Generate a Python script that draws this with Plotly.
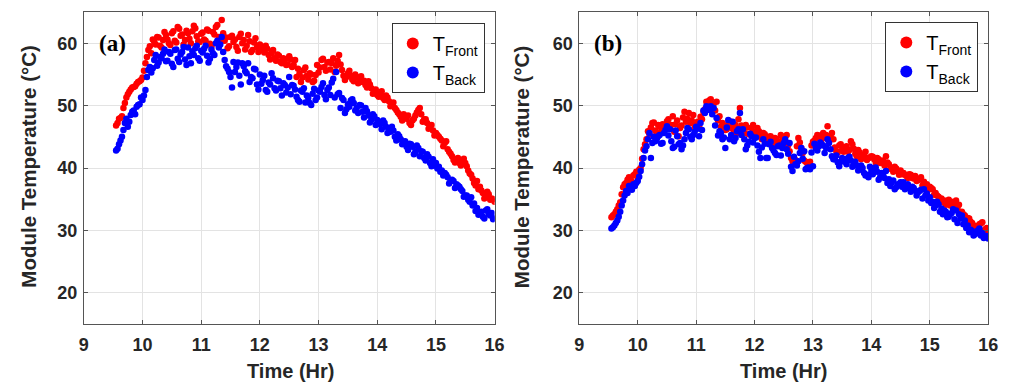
import plotly.graph_objects as go

# Sample times (hours), one reading every 3 minutes
time_hr = [
    9.55, 9.60, 9.65, 9.70, 9.75, 9.80, 9.85, 9.90, 9.95, 10.00,
    10.05, 10.10, 10.15, 10.20, 10.25, 10.30, 10.35, 10.40, 10.45, 10.50,
    10.55, 10.60, 10.65, 10.70, 10.75, 10.80, 10.85, 10.90, 10.95, 11.00,
    11.05, 11.10, 11.15, 11.20, 11.25, 11.30, 11.35, 11.40, 11.45, 11.50,
    11.55, 11.60, 11.65, 11.70, 11.75, 11.80, 11.85, 11.90, 11.95, 12.00,
    12.05, 12.10, 12.15, 12.20, 12.25, 12.30, 12.35, 12.40, 12.45, 12.50,
    12.55, 12.60, 12.65, 12.70, 12.75, 12.80, 12.85, 12.90, 12.95, 13.00,
    13.05, 13.10, 13.15, 13.20, 13.25, 13.30, 13.35, 13.40, 13.45, 13.50,
    13.55, 13.60, 13.65, 13.70, 13.75, 13.80, 13.85, 13.90, 13.95, 14.00,
    14.05, 14.10, 14.15, 14.20, 14.25, 14.30, 14.35, 14.40, 14.45, 14.50,
    14.55, 14.60, 14.65, 14.70, 14.75, 14.80, 14.85, 14.90, 14.95, 15.00,
    15.05, 15.10, 15.15, 15.20, 15.25, 15.30, 15.35, 15.40, 15.45, 15.50,
    15.55, 15.60, 15.65, 15.70, 15.75, 15.80, 15.85, 15.90, 15.95, 16.00,
]
# Intermediate readings, taken halfway between the ones above
time_hr_mid = [
    9.575, 9.625, 9.675, 9.725, 9.775, 9.825, 9.875, 9.925, 9.975,
    10.025, 10.075, 10.125, 10.175, 10.225, 10.275, 10.325, 10.375, 10.425, 10.475,
    10.525, 10.575, 10.625, 10.675, 10.725, 10.775, 10.825, 10.875, 10.925, 10.975,
    11.025, 11.075, 11.125, 11.175, 11.225, 11.275, 11.325, 11.375, 11.425, 11.475,
    11.525, 11.575, 11.625, 11.675, 11.725, 11.775, 11.825, 11.875, 11.925, 11.975,
    12.025, 12.075, 12.125, 12.175, 12.225, 12.275, 12.325, 12.375, 12.425, 12.475,
    12.525, 12.575, 12.625, 12.675, 12.725, 12.775, 12.825, 12.875, 12.925, 12.975,
    13.025, 13.075, 13.125, 13.175, 13.225, 13.275, 13.325, 13.375, 13.425, 13.475,
    13.525, 13.575, 13.625, 13.675, 13.725, 13.775, 13.825, 13.875, 13.925, 13.975,
    14.025, 14.075, 14.125, 14.175, 14.225, 14.275, 14.325, 14.375, 14.425, 14.475,
    14.525, 14.575, 14.625, 14.675, 14.725, 14.775, 14.825, 14.875, 14.925, 14.975,
    15.025, 15.075, 15.125, 15.175, 15.225, 15.275, 15.325, 15.375, 15.425, 15.475,
    15.525, 15.575, 15.625, 15.675, 15.725, 15.775, 15.825, 15.875, 15.925, 15.975,
]

# Panel (a): front / back module temperature (deg C)
a_front = [
    46.8, 47.9, 48.3, 50.4, 51.8, 52.6, 53.0, 53.5, 53.9, 54.5,
    56.8, 58.9, 58.4, 60.2, 61.0, 59.6, 60.5, 61.3, 60.0, 61.6,
    60.4, 62.6, 61.2, 59.8, 62.0, 60.7, 61.9, 62.4, 60.3, 61.5,
    60.6, 62.2, 59.9, 61.8, 62.6, 61.0, 63.7, 60.4, 59.2, 61.0,
    60.2, 59.4, 61.0, 60.0, 59.0, 61.3, 58.6, 60.1, 59.4, 59.8,
    58.9, 59.6, 58.1, 58.4, 57.6, 58.2, 57.0, 57.6, 56.5, 57.9,
    56.2, 57.3, 55.9, 53.8, 55.7, 54.8, 55.2, 53.8, 54.9, 55.3,
    57.3, 56.2, 56.9, 55.8, 57.6, 56.4, 58.1, 55.7, 54.1, 55.2,
    54.8, 53.9, 54.6, 54.4, 53.8, 53.3, 53.9, 52.8, 52.3, 51.7,
    52.0, 51.2, 51.6, 50.7, 50.2, 49.6, 48.9, 48.2, 48.6, 47.9,
    47.2, 47.6, 48.4, 49.3, 48.6, 47.8, 47.2, 46.6, 46.0, 45.6,
    45.0, 44.4, 44.0, 43.0, 42.3, 41.3, 41.0, 40.8, 41.2, 40.8,
    39.6, 38.9, 37.6, 37.9, 37.0, 36.0, 35.4, 35.8, 35.1, 34.6,
]
a_front_mid = [
    47.2, 48.0, 49.6, 51.3, 52.2, 52.9, 53.1, 53.8, 54.1,
    55.6, 57.8, 59.5, 60.6, 59.8, 60.9, 59.3, 61.8, 60.6, 59.7,
    61.9, 60.1, 62.3, 61.4, 60.5, 61.6, 60.0, 62.8, 61.1, 60.2,
    61.7, 60.4, 62.0, 59.5, 61.4, 62.9, 60.2, 61.6, 60.9, 59.5,
    61.2, 60.6, 58.8, 61.5, 60.5, 59.6, 60.3, 58.9, 60.8, 58.6,
    59.3, 58.5, 59.1, 57.4, 58.9, 57.2, 58.0, 56.8, 57.3, 56.6,
    57.4, 56.5, 54.6, 55.1, 54.5, 56.1, 54.2, 55.0, 54.0, 56.5,
    56.1, 57.5, 55.6, 57.0, 56.8, 55.4, 57.2, 56.6, 54.8, 54.6,
    55.6, 54.2, 55.0, 53.6, 54.7, 54.0, 52.9, 53.4, 51.9, 52.6,
    51.4, 52.3, 50.9, 51.3, 49.9, 50.5, 49.3, 48.6, 47.6, 48.3,
    48.4, 46.9, 47.9, 48.9, 49.6, 47.4, 47.8, 46.3, 46.9, 45.2,
    45.3, 44.7, 43.5, 44.3, 42.6, 41.9, 40.9, 41.6, 40.4, 41.5,
    40.3, 39.1, 38.3, 37.2, 36.6, 36.4, 35.1, 36.2, 34.9, 35.0,
]
a_back = [
    42.8, 43.8, 45.0, 47.2, 46.6, 48.5, 49.2, 49.8, 50.2, 50.9,
    52.5, 55.7, 55.3, 57.3, 56.4, 57.8, 58.3, 57.1, 58.6, 56.7,
    58.9, 57.5, 58.2, 59.4, 56.5, 57.9, 58.7, 59.2, 57.6, 58.8,
    59.1, 58.0, 57.5, 58.4, 60.0, 59.3, 61.0, 57.3, 55.9, 54.6,
    57.0, 56.2, 54.8, 56.8, 55.5, 56.8, 54.6, 55.9, 53.4, 55.0,
    54.1, 52.5, 53.7, 55.2, 52.8, 54.0, 52.8, 53.6, 52.1, 54.6,
    53.3, 52.6, 50.9, 52.4, 52.8, 51.6, 50.4, 51.9, 50.9, 52.4,
    53.0, 51.7, 52.5, 51.7, 54.3, 55.4, 52.0, 51.2, 48.8, 50.2,
    50.8, 50.4, 49.6, 50.1, 49.0, 49.6, 48.4, 47.7, 48.3, 47.7,
    47.0, 47.6, 46.6, 46.0, 46.6, 45.0, 45.4, 44.6, 44.2, 43.4,
    43.9, 43.4, 42.6, 43.2, 42.7, 41.6, 42.2, 40.8, 41.4, 40.8,
    40.2, 39.6, 39.2, 38.5, 38.0, 37.9, 37.4, 37.0, 36.3, 35.6,
    34.9, 35.3, 34.3, 33.6, 32.9, 32.2, 33.2, 32.6, 32.8, 32.0,
]
a_back_mid = [
    43.1, 44.4, 46.1, 47.9, 47.4, 49.0, 48.6, 50.1, 51.3,
    51.6, 54.6, 56.2, 56.0, 58.1, 56.9, 57.6, 59.0, 57.2, 58.3,
    56.2, 59.0, 57.0, 58.6, 57.4, 59.3, 56.8, 58.1, 59.6, 57.2,
    58.5, 59.6, 56.9, 59.0, 58.1, 60.4, 59.8, 58.6, 56.3, 55.4,
    52.9, 55.4, 56.9, 53.4, 56.3, 55.2, 53.8, 54.4, 55.8, 52.6,
    53.5, 54.8, 52.2, 53.4, 54.4, 52.4, 53.9, 51.6, 53.3, 52.9,
    51.8, 53.2, 51.4, 50.6, 52.2, 50.5, 51.2, 50.1, 52.7, 51.3,
    52.2, 53.6, 51.0, 52.9, 53.7, 51.3, 51.8, 49.6, 50.9, 49.4,
    49.8, 51.0, 49.2, 48.8, 50.0, 48.1, 49.1, 47.3, 48.6, 46.9,
    47.3, 46.2, 47.2, 45.6, 45.8, 46.0, 44.4, 45.1, 43.8, 44.3,
    42.9, 43.8, 42.2, 43.6, 41.9, 42.6, 41.2, 41.8, 40.3, 40.4,
    39.9, 39.4, 38.8, 38.9, 37.5, 38.1, 36.8, 37.2, 36.6, 35.4,
    35.6, 34.6, 34.0, 33.1, 32.5, 33.0, 31.9, 33.4, 32.4, 31.8,
]

# Panel (b): front / back module temperature (deg C)
b_front = [
    32.1, 32.6, 33.4, 34.5, 36.9, 37.6, 38.5, 37.8, 39.0, 38.6,
    40.0, 43.0, 44.6, 45.4, 47.2, 46.0, 46.9, 45.8, 46.2, 47.5,
    46.3, 48.3, 47.0, 45.1, 46.8, 49.0, 47.9, 47.2, 48.5, 47.0,
    46.7, 47.8, 49.4, 50.1, 51.0, 50.3, 50.6, 48.3, 47.2, 46.1,
    47.0, 46.7, 45.9, 45.6, 49.6, 46.1, 46.9, 45.4, 46.4, 45.8,
    46.4, 45.2, 45.6, 44.9, 45.0, 44.3, 44.8, 43.9, 45.3, 44.6,
    45.3, 42.7, 41.1, 41.3, 44.8, 43.2, 41.2, 40.8, 41.0, 44.2,
    44.8, 45.2, 44.6, 44.9, 46.7, 45.0, 44.6, 42.7, 43.6, 42.9,
    43.2, 42.6, 44.3, 43.1, 41.9, 42.5, 41.9, 42.6, 41.6, 41.9,
    41.4, 41.6, 40.8, 41.2, 41.9, 40.6, 39.8, 40.2, 39.5, 39.6,
    39.2, 38.7, 39.0, 38.4, 38.7, 38.2, 38.5, 37.8, 37.4, 37.0,
    36.6, 36.0, 35.4, 35.1, 34.8, 34.3, 34.0, 34.4, 34.8, 34.1,
    33.0, 32.4, 32.0, 31.4, 30.8, 30.6, 31.0, 31.3, 30.2, 30.0,
]
b_front_mid = [
    32.4, 33.0, 34.0, 35.8, 37.4, 38.1, 38.3, 38.8, 39.4,
    39.7, 41.5, 43.8, 45.9, 46.5, 47.3, 45.5, 46.6, 47.0, 46.2,
    47.8, 46.9, 45.8, 47.6, 46.4, 48.1, 47.4, 48.8, 47.6, 46.5,
    47.4, 48.2, 49.0, 50.6, 50.8, 49.9, 49.2, 47.6, 46.6, 46.8,
    46.2, 47.5, 46.3, 46.9, 47.8, 46.8, 45.6, 46.5, 45.4, 46.9,
    45.6, 45.9, 44.6, 45.4, 44.5, 45.1, 44.0, 44.6, 44.2, 45.0,
    44.2, 43.6, 41.6, 40.8, 43.5, 44.1, 42.4, 41.0, 40.9, 43.6,
    44.4, 45.3, 43.9, 45.6, 45.3, 44.2, 45.6, 43.3, 42.5, 43.8,
    42.6, 43.5, 42.9, 43.8, 42.3, 42.9, 41.4, 42.1, 41.3, 41.7,
    41.8, 40.9, 41.4, 41.0, 40.4, 40.9, 39.9, 39.4, 39.9, 38.9,
    39.0, 38.9, 38.4, 38.9, 38.3, 37.9, 38.1, 37.2, 36.9, 36.5,
    36.8, 35.7, 35.6, 35.0, 34.5, 34.1, 34.9, 34.6, 33.7, 33.6,
    32.8, 32.6, 31.6, 31.9, 31.2, 30.7, 30.4, 31.1, 29.9, 30.4,
]
b_back = [
    30.3, 30.8, 31.6, 33.0, 34.8, 36.3, 37.1, 36.5, 37.1, 37.9,
    39.5, 41.6, 43.5, 45.6, 44.0, 44.3, 45.1, 43.9, 45.6, 46.7,
    46.2, 43.2, 46.0, 43.8, 43.0, 44.6, 46.4, 45.0, 45.3, 46.6,
    45.1, 46.1, 48.8, 49.6, 49.9, 49.6, 48.0, 45.9, 44.6, 43.2,
    47.7, 45.3, 44.3, 45.9, 48.8, 46.2, 43.0, 44.2, 45.1, 44.8,
    43.6, 41.6, 44.6, 41.6, 43.8, 43.2, 42.4, 43.5, 42.0, 44.0,
    43.0, 44.0, 39.5, 40.6, 41.1, 43.2, 42.7, 40.0, 39.8, 40.3,
    43.2, 43.5, 43.8, 42.4, 44.6, 43.0, 41.4, 42.0, 40.3, 41.6,
    41.0, 41.6, 41.2, 40.8, 40.4, 39.8, 40.0, 38.8, 38.5, 39.5,
    40.0, 39.4, 38.5, 39.0, 39.5, 38.2, 37.7, 36.6, 37.4, 37.7,
    37.7, 37.2, 36.9, 37.0, 36.4, 36.1, 36.5, 36.6, 35.9, 35.3,
    34.6, 34.0, 34.2, 33.5, 33.2, 32.1, 32.6, 33.4, 33.2, 32.6,
    32.4, 31.6, 30.8, 30.1, 29.2, 29.8, 30.3, 29.6, 29.0, 28.7,
]
b_back_mid = [
    30.5, 31.2, 32.2, 34.0, 35.6, 36.0, 36.8, 37.4, 37.6,
    38.6, 40.6, 42.8, 44.6, 41.6, 45.0, 44.6, 45.3, 44.0, 46.1,
    45.2, 44.3, 43.4, 45.1, 44.0, 43.6, 45.6, 46.2, 44.6, 45.8,
    46.3, 47.2, 49.2, 49.9, 49.3, 48.6, 46.8, 45.2, 45.6, 44.9,
    46.5, 44.6, 47.4, 44.8, 46.2, 45.3, 44.6, 43.6, 45.5, 44.1,
    44.9, 42.6, 43.3, 43.9, 41.6, 44.2, 42.8, 42.1, 43.6, 43.2,
    44.6, 42.3, 40.2, 41.8, 40.4, 42.4, 41.5, 39.8, 40.1, 42.5,
    43.9, 42.8, 44.1, 43.6, 43.2, 44.0, 41.9, 41.4, 40.9, 41.0,
    41.4, 40.6, 41.8, 40.2, 41.0, 39.6, 40.4, 39.2, 38.9, 40.2,
    39.0, 40.1, 38.1, 39.2, 38.4, 37.6, 37.1, 38.0, 36.9, 37.3,
    37.0, 36.6, 37.4, 36.2, 36.8, 35.6, 36.3, 35.1, 35.6, 34.8,
    34.4, 33.6, 34.6, 33.0, 32.6, 33.0, 32.2, 32.8, 31.8, 31.2,
    31.9, 31.0, 30.4, 29.7, 29.9, 29.4, 30.0, 29.2, 28.8, 29.1,
]

x_ticks = [9, 10, 11, 12, 13, 14, 15, 16]
y_ticks = [20, 30, 40, 50, 60]
panel_labels = ["(a)", "(b)"]

W, H = 1009, 382
FONT = "Arial, Liberation Sans, sans-serif"
RED, BLUE = "#ff0000", "#0000ff"

fig = go.Figure()

all_t = time_hr + time_hr_mid
panels = [(a_front + a_front_mid, a_back + a_back_mid, "x", "y", "legend"),
          (b_front + b_front_mid, b_back + b_back_mid, "x2", "y2", "legend2")]
for front, back, xa, ya, lg in panels:
    fig.add_trace(go.Scatter(
        x=all_t, y=front, mode="markers", xaxis=xa, yaxis=ya, legend=lg,
        name="T<sub>Front</sub>",
        marker=dict(color=RED, size=6.5, line=dict(width=0)),
    ))
    fig.add_trace(go.Scatter(
        x=all_t, y=back, mode="markers", xaxis=xa, yaxis=ya, legend=lg,
        name="T<sub>Back</sub>",
        marker=dict(color=BLUE, size=6.5, line=dict(width=0)),
    ))

# plot-area geometry in pixels
ax_left = [80, 583]
ax_right = [497, 998]
ax_top, ax_bottom = 12, 324

axis_common = dict(
    showgrid=True, gridcolor="#e3e3e3", gridwidth=1,
    showline=True, linecolor="#555555", linewidth=1, mirror="ticks",
    ticks="inside", ticklen=4, tickcolor="#555555",
    zeroline=False,
    tickfont=dict(family=FONT, size=18, color="#262626", weight="bold"),
)

ydom = [1 - ax_bottom / H, 1 - ax_top / H]
for i in range(2):
    sfx = "" if i == 0 else "2"
    fig.update_layout(**{
        "xaxis" + sfx: dict(
            domain=[ax_left[i] / W, ax_right[i] / W], range=[9, 16],
            tickvals=x_ticks, anchor="y" + sfx, ticklabelstandoff=4,
            **axis_common),
        "yaxis" + sfx: dict(
            domain=ydom, range=[15, 65], tickvals=y_ticks,
            anchor="x" + sfx, ticklabelstandoff=2, **axis_common),
    })

legend_common = dict(
    bgcolor="white", bordercolor="#333333", borderwidth=1,
    font=dict(family=FONT, size=20, color="#000000"),
    xanchor="right", yanchor="top", itemsizing="constant",
    tracegroupgap=0, itemwidth=30,
)
fig.update_layout(
    legend=dict(x=487 / W, y=1 - 23 / H, **legend_common),
    legend2=dict(x=988 / W, y=1 - 22 / H, **legend_common),
)

annotations = []
centers_x = [290, 790]
for i in range(2):
    annotations.append(dict(
        text="Time (Hr)", xref="paper", yref="paper",
        x=centers_x[i] / W, y=1 - 371 / H, xanchor="center", yanchor="middle",
        showarrow=False,
        font=dict(family=FONT, size=20, color="#262626", weight="bold")))
    annotations.append(dict(
        text="Module Temperature (°C)", xref="paper", yref="paper",
        x=[24, 525][i] / W, y=1 - 167 / H, xanchor="center", yanchor="middle",
        textangle=-90, showarrow=False,
        font=dict(family=FONT, size=20.5, color="#262626", weight="bold")))
    annotations.append(dict(
        text=panel_labels[i], xref="paper", yref="paper",
        x=[93, 596][i] / W, y=1 - 43 / H, xanchor="left", yanchor="middle",
        showarrow=False,
        font=dict(family="Liberation Serif, serif", size=23, color="#000000",
                  weight="bold")))

fig.update_layout(
    width=W, height=H,
    margin=dict(l=0, r=0, t=0, b=0),
    paper_bgcolor="white", plot_bgcolor="white",
    annotations=annotations,
    showlegend=True,
)

fig.write_html("out.html")
